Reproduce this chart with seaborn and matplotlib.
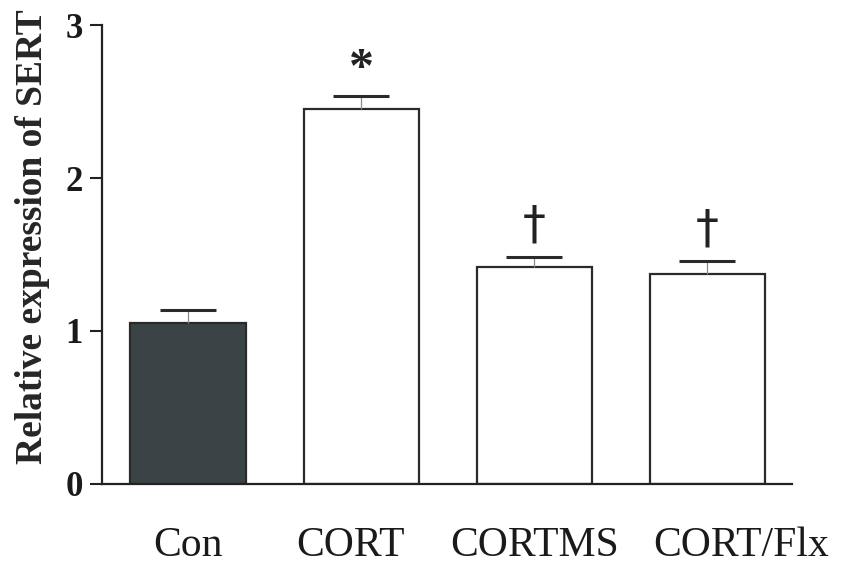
import matplotlib
matplotlib.use("Agg")
import matplotlib.pyplot as plt
import matplotlib.transforms as mtransforms
import seaborn as sns
import pandas as pd

# Relative SERT expression per group (mean and upper SEM)
groups = ["Con", "CORT", "CORTMS", "CORT/Flx"]
means = [1.055, 2.448, 1.420, 1.373]
sems = [0.080, 0.088, 0.063, 0.085]
marks = ["", "*", "\u2020", "\u2020"]
bar_colors = ["#3a4345", "#ffffff", "#ffffff", "#ffffff"]

sns.set_theme(style="white")
plt.rcParams["font.family"] = ["Liberation Serif", "DejaVu Serif"]

df = pd.DataFrame({"group": groups, "value": means})

fig = plt.figure(figsize=(8.43, 5.67), dpi=100)
ax = fig.add_axes([0.121, 0.1464, 0.8185, 0.8095])

sns.barplot(data=df, x="group", y="value", hue="group", palette=bar_colors,
            order=groups, hue_order=groups, legend=False, width=0.665,
            edgecolor="#2a2a2a", linewidth=1.6, errorbar=None, ax=ax,
            saturation=1)

# upper-only SEM whiskers: thin grey stem, heavy dark cap
xs = list(range(len(groups)))
eb = ax.errorbar(xs, means, yerr=[[0] * len(sems), sems], fmt="none",
                 ecolor="#8c8c8c", elinewidth=0.9, capsize=20.5,
                 capthick=2.2, zorder=1)
lower_cap, upper_cap = eb[1]
lower_cap.set_visible(False)
upper_cap.set_markeredgecolor("#2a2a2a")
upper_cap.set_color("#2a2a2a")

for x, m, s, t in zip(xs, means, sems, marks):
    if not t:
        continue
    if t == "*":
        ax.text(x, m + s + 0.17, t, ha="center", va="center",
                fontsize=36, fontweight="bold", color="#222222")
    else:
        ax.text(x, m + s + 0.20, t, ha="center", va="center",
                fontsize=33, color="#222222", family=["DejaVu Sans"])

ax.set_xlim(-0.497, 3.49)
ax.set_ylim(0, 3)
ax.set_yticks([0, 1, 2, 3])
ax.set_yticklabels(["0", "1", "2", "3"], fontsize=25, fontweight="bold")
ax.set_xticks(xs)
ax.set_xticklabels([])
ax.set_xlabel("")
ax.set_ylabel("Relative expression of SERT", fontsize=27, fontweight="bold")
ax.yaxis.set_label_coords(-0.075, 0.538)

# group names under the axis, nudged sideways so the long ones do not collide
label_shift_px = [0, -11, 0, 34]
base = mtransforms.blended_transform_factory(ax.transData, ax.transAxes)
for x, name, dx in zip(xs, groups, label_shift_px):
    off = mtransforms.ScaledTranslation(dx / 100, 0, fig.dpi_scale_trans)
    ax.text(x, -0.157, name, transform=base + off, ha="center",
            va="baseline", fontsize=30, color="#1a1a1a", clip_on=False)

for side in ["top", "right"]:
    ax.spines[side].set_visible(False)
for side in ["left", "bottom"]:
    ax.spines[side].set_linewidth(1.6)
    ax.spines[side].set_color("#222222")

ax.tick_params(axis="y", which="major", left=True, length=9, width=1.5,
               color="#222222", pad=5, labelcolor="#1a1a1a")
ax.tick_params(axis="x", which="major", bottom=False)

fig.savefig("out.png", dpi=100, facecolor="white")
